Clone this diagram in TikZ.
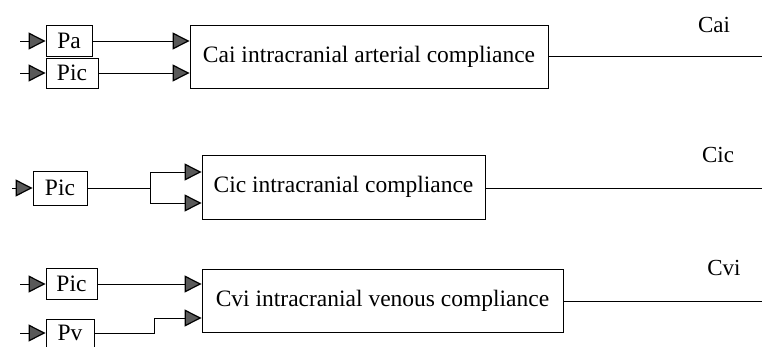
\documentclass[tikz,border=0pt]{standalone}
\usepackage{fontspec}
\setmainfont{Liberation Serif}
\usetikzlibrary{arrows.meta}
\tikzset{
  blk/.style={draw, line width=0.9pt, inner sep=0pt, font=\fontsize{23.5}{25}\selectfont},
  wire/.style={line width=0.9pt},
  inarrow/.style={wire, -{Triangle[length=17pt,width=17pt,fill=gray!70!black,line width=1.2pt]}},
  lbl/.style={font=\fontsize{23}{25}\selectfont, inner sep=0pt}
}
\begin{document}
\begin{tikzpicture}[x=1pt,y=-1pt]
\useasboundingbox (0,0) rectangle (762,346);
% Row 1
\node[blk, minimum width=46pt, minimum height=31pt] (pa) at (69,41) {Pa};
\node[blk, minimum width=52pt, minimum height=30pt] (pica) at (72,73) {Pic};
\node[blk, minimum width=358pt, minimum height=63pt] (cai) at (369,56.5) {Cai intracranial arterial compliance};
\coordinate (ina) at (20,41);
\coordinate (inb) at (20,73);
\coordinate (outa) at (762,56.5);
\draw[inarrow] (ina) -- (pa.west);
\draw[inarrow] (inb) -- (pica.west);
\draw[inarrow] (pa.east) -- (pa.east -| cai.west);
\draw[inarrow] (pica.east) -- (pica.east -| cai.west);
\draw[wire] (cai.east) -- (outa);
\node[lbl] (lcai) at (714,25) {Cai};
% Row 2
\node[blk, minimum width=54pt, minimum height=34pt] (picb) at (60,188) {Pic};
\node[blk, minimum width=283pt, minimum height=64pt] (cic) at (343.5,187) {Cic intracranial compliance};
\coordinate (inc) at (12,188);
\coordinate (spl) at (150,188);
\coordinate (spt) at (150,172);
\coordinate (spb) at (150,203);
\coordinate (outb) at (762,188);
\draw[inarrow] (inc) -- (picb.west);
\draw[wire] (picb.east) -- (spl);
\draw[wire] (spt) -- (spb);
\draw[inarrow] (spt) -- (spt -| cic.west);
\draw[inarrow] (spb) -- (spb -| cic.west);
\draw[wire] (cic.east |- outb) -- (outb);
\node[lbl] (lcic) at (718,155) {Cic};
% Row 3
\node[blk, minimum width=51pt, minimum height=31pt] (picc) at (71.5,284) {Pic};
\node[blk, minimum width=48pt, minimum height=28pt] (pv) at (70,333) {Pv};
\node[blk, minimum width=361pt, minimum height=63pt] (cvi) at (382.5,300.5) {Cvi intracranial venous compliance};
\coordinate (ind) at (20,284);
\coordinate (ine) at (20,333);
\coordinate (kb) at (154,333);
\coordinate (kt) at (154,318);
\coordinate (outc) at (762,301);
\draw[inarrow] (ind) -- (picc.west);
\draw[inarrow] (ine) -- (pv.west);
\draw[inarrow] (picc.east) -- (picc.east -| cvi.west);
\draw[wire] (pv.east) -- (kb) -- (kt);
\draw[inarrow] (kt) -- (kt -| cvi.west);
\draw[wire] (cvi.east |- outc) -- (outc);
\node[lbl] (lcvi) at (724,268) {Cvi};
\end{tikzpicture}
\end{document}
